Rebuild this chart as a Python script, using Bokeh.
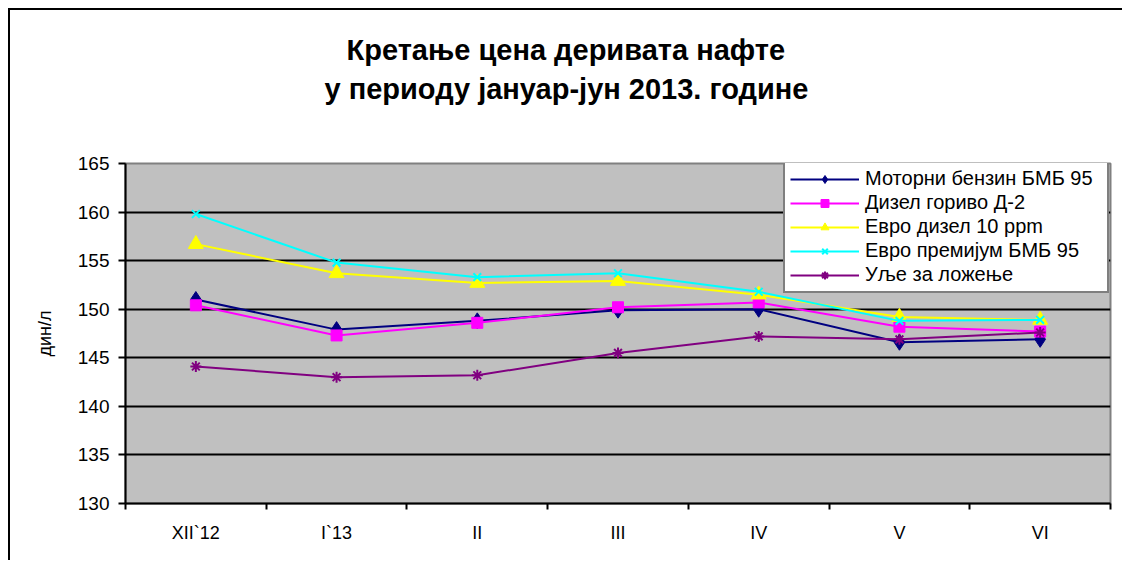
from bokeh.plotting import figure
from bokeh.models import Range1d, FixedTicker, Legend, LegendItem, Title
from bokeh.embed import file_html
from bokeh.resources import INLINE

# ---- data ----
categories = ["XII`12", "I`13", "II", "III", "IV", "V", "VI"]
benzin_bmb95 = [151.0, 147.9, 148.8, 149.9, 150.0, 146.6, 146.9]
dizel_d2 = [150.4, 147.3, 148.6, 150.2, 150.7, 148.2, 147.7]
evro_dizel = [156.7, 153.7, 152.7, 152.9, 151.5, 149.2, 148.9]
evro_premium = [159.8, 154.8, 153.3, 153.7, 151.8, 148.8, 148.9]
ulje = [144.1, 143.0, 143.2, 145.5, 147.2, 146.9, 147.6]
series_names = ["Моторни бензин БМБ 95", "Дизел гориво Д-2", "Евро дизел 10 ppm",
                "Евро премијум БМБ 95", "Уље за ложење"]
y_ticks = [130, 135, 140, 145, 150, 155, 160, 165]
grid_ticks = [135, 140, 145, 150, 155, 160]
title_lines = ["Кретање цена деривата нафте", "у периоду јануар-јун 2013. године"]
y_label = "дин/л"

FONT = "Liberation Sans"

x = [i + 0.5 for i in range(len(categories))]

p = figure(width=1114, height=552, x_range=Range1d(0, len(categories)),
           y_range=Range1d(y_ticks[0], y_ticks[-1]), title=None,
           output_backend="svg", toolbar_location=None,
           min_border_left=115, min_border_right=14, min_border_top=153, min_border_bottom=59,
           background_fill_color="#C0C0C0", border_fill_color="white",
           outline_line_color="#808080", outline_line_width=2)
p.styles = {"margin-left": "8px", "margin-top": "8px",
            "border-left": "2px solid black", "border-top": "2px solid black"}

# x axis: labels at centres, ticks at category boundaries
p.xaxis.ticker = FixedTicker(ticks=x, minor_ticks=list(range(len(categories) + 1)))
p.xaxis.major_label_overrides = {xi: c for xi, c in zip(x, categories)}
p.xaxis.major_tick_out = 0
p.xaxis.major_tick_in = 0
p.xaxis.minor_tick_out = 6
p.xaxis.minor_tick_in = 0
p.xaxis.minor_tick_line_color = "black"
p.xaxis.minor_tick_line_width = 2
p.xaxis.axis_line_color = "black"
p.xaxis.axis_line_width = 2
p.xaxis.major_label_standoff = 13
p.xaxis.major_label_text_font = FONT
p.xaxis.major_label_text_font_size = "18px"
p.xaxis.major_label_text_color = "black"
p.xgrid.visible = False

# y axis
p.yaxis.ticker = FixedTicker(ticks=y_ticks, minor_ticks=[])
p.yaxis.major_tick_out = 7
p.yaxis.major_tick_in = 0
p.yaxis.major_tick_line_width = 2
p.yaxis.major_tick_line_color = "black"
p.yaxis.axis_line_color = "black"
p.yaxis.axis_line_width = 2
p.yaxis.major_label_standoff = 9
p.yaxis.major_label_text_font = FONT
p.yaxis.major_label_text_font_size = "19px"
p.yaxis.major_label_text_color = "black"
p.yaxis.axis_label = y_label
p.yaxis.axis_label_text_font = FONT
p.yaxis.axis_label_text_font_size = "18px"
p.yaxis.axis_label_text_font_style = "normal"
p.yaxis.axis_label_text_color = "black"
p.yaxis.axis_label_standoff = 20
p.ygrid.ticker = FixedTicker(ticks=grid_ticks)
p.ygrid.grid_line_color = "black"
p.ygrid.grid_line_width = 2

styles = [
    (benzin_bmb95, "#000080", "diamond", 16, "#000080"),
    (dizel_d2, "#FF00FF", "square", 11, "#FF00FF"),
    (evro_dizel, "#FFFF00", "triangle", 15, "#FFFF00"),
    (evro_premium, "#00FFFF", "x", 11, None),
    (ulje, "#800080", "asterisk", 11, None),
]

items = []
for name, (vals, col, mk, sz, fill) in zip(series_names, styles):
    ln = p.line(x, vals, line_color=col, line_width=2)
    sc = p.scatter(x, vals, marker=mk, size=sz, line_color=col,
                   fill_color=fill if fill else col, line_width=2 if fill is None else 1)
    items.append(LegendItem(label=name, renderers=[ln, sc]))

legend = Legend(items=items, location=(658, 210), border_line_color="black",
                border_line_width=2, background_fill_color="white", background_fill_alpha=1,
                label_text_font=FONT, label_text_font_size="20px", label_text_color="black",
                padding=5, spacing=1, glyph_height=20, label_height=20, glyph_width=69,
                label_standoff=6, label_width=237, margin=0)
p.add_layout(legend, "center")

# title: spacer + two lines, stacked outward from the frame
spacer = Title(text=" ", text_font_size="1px", standoff=55)
t2 = Title(text=title_lines[1], align="left", offset=199, standoff=0,
           text_font=FONT, text_font_size="29px", text_font_style="bold", text_color="black",
           vertical_align="middle")
t1 = Title(text=title_lines[0], align="left", offset=221, standoff=12,
           text_font=FONT, text_font_size="29px", text_font_style="bold", text_color="black",
           vertical_align="bottom")
p.add_layout(spacer, "above")
p.add_layout(t2, "above")
p.add_layout(t1, "above")

open("out.html", "w").write(file_html(p, INLINE))
